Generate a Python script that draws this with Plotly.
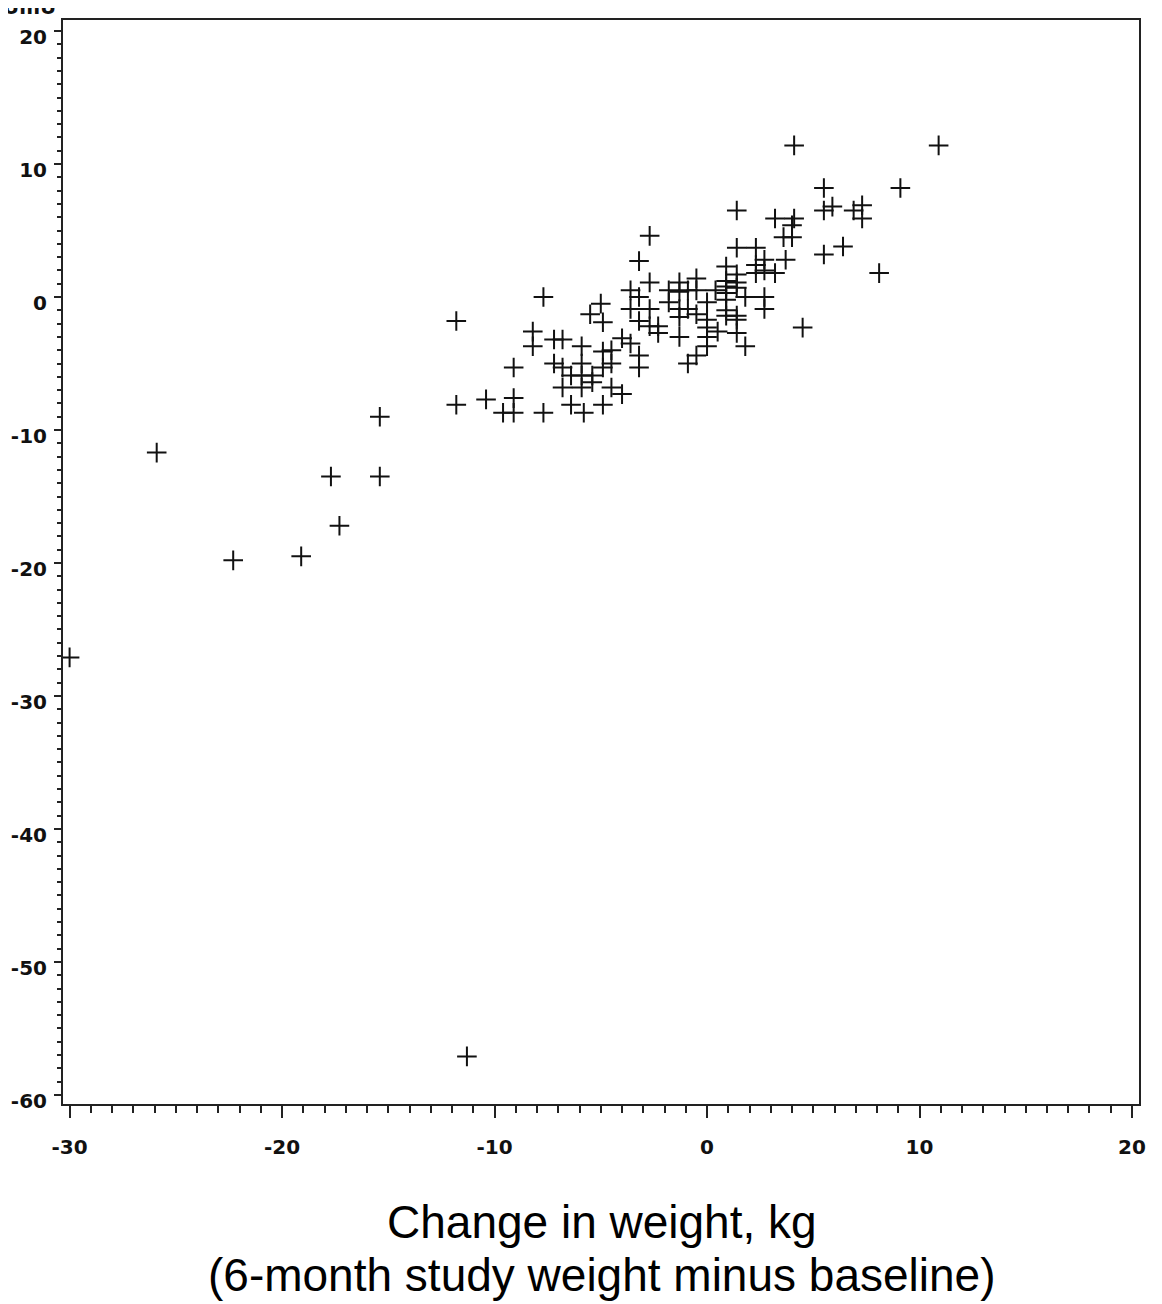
import plotly.graph_objects as go

# Change in weight (kg) vs change in ordinate variable
weight_change = [
    -30.0, -25.9, -22.3, -19.1, -17.7, -17.3, -15.4, -15.4, -11.8, -11.8, -11.3, -10.4,
    -9.6, -9.1, -9.1, -9.1, -8.2, -8.2, -7.7, -7.7, -7.2, -6.8, -7.2, -6.8,
    -6.4, -5.9, -5.4, -5.9, -5.9, -6.8, -5.9, -5.4, -6.4, -5.8, -4.9, -4.5,
    -4.0, -4.9, -4.5, -4.9, -4.5, -4.0, -3.6, -3.2, -3.2, -5.5, -5.0, -4.9,
    -3.6, -3.2, -3.6, -3.2,
    -2.7, -3.2, -2.7, -2.7, -2.7, -2.3, -2.3, -1.3, -0.9, -0.5, -1.8, -1.8,
    -1.3, -1.3, -0.9, -0.5, -0.5, -1.3, -0.9, -1.3, -0.5, 0.0, 0.0, 0.0,
    0.0, 0.0, 0.5, 0.4, 0.9, 0.9, 0.9, 0.9, 0.9, 0.9, 0.9, 1.4,
    1.4, 1.4, 1.4, 1.4, 1.4, 1.8, 1.8, 1.4, 2.3, 2.3, 2.3, 2.7,
    2.7, 3.2, 3.7, 2.7, 2.7, 3.6, 4.0, 4.0,
    4.1, 10.9, 5.5, 9.1, 1.4, 3.2, 4.1, 5.5, 5.9, 6.9, 7.3, 7.3,
    5.5, 6.4, 8.1, 4.5,
]
outcome_change = [
    -27.1, -11.7, -19.8, -19.5, -13.5, -17.2, -9.0, -13.5, -1.8, -8.1, -57.1, -7.7,
    -8.7, -8.7, -7.6, -5.3, -2.6, -3.7, 0.0, -8.7, -3.2, -3.2, -5.0, -5.3,
    -5.9, -5.9, -5.9, -5.0, -3.7, -6.8, -6.8, -6.4, -8.1, -8.7, -8.1, -6.8,
    -7.3, -5.3, -5.0, -4.1, -4.0, -3.1, -3.5, -4.4, -5.3, -1.3, -0.5, -1.9,
    0.5, 0.0, -0.9, -1.8,
    4.6, 2.7, 1.1, -0.9, -2.2, -2.2, -2.7, -3.0, -5.0, -4.4, 0.5, -0.4,
    1.1, 0.4, 0.5, 1.4, 0.5, -0.9, -0.9, -1.5, -1.3, -1.7, -0.4, -2.3,
    -3.0, -3.7, -2.6, 0.5, 2.3, 1.2, 0.8, 0.3, -0.2, -1.0, -1.4, 1.7,
    1.1, 0.7, -1.4, -1.7, -2.7, 0.0, -3.7, 3.7, 3.7, 2.4, 1.8, 2.8,
    2.0, 1.8, 2.8, 0.0, -0.9, 4.5, 5.4, 4.5,
    11.4, 11.4, 8.2, 8.2, 6.5, 5.9, 5.9, 6.5, 6.8, 6.5, 6.9, 5.9,
    3.2, 3.8, 1.8, -2.3,
]

x_tick_vals = [-30, -20, -10, 0, 10, 20]
x_tick_text = ["-30", "-20", "-10", "0", "10", "20"]
y_tick_vals = [20, 10, 0, -10, -20, -30, -40, -50, -60]
y_tick_text = ["20", "10", "0", "-10", "-20", "-30", "-40", "-50", "-60"]

x_title_line1 = "Change in weight, kg"
x_title_line2 = "(6-month study weight minus baseline)"
y_label_fragment = "UmU"

# page has an 8px default body margin; size the figure to fit the 1162x1304 window
BODY = 8
W, H = 1162 - BODY, 1304 - BODY
PLOT_L, PLOT_R, PLOT_T, PLOT_B = 63, 1139, 20, 1104   # page pixel targets
ML = PLOT_L - BODY
MT = PLOT_T - BODY
MR = W - (PLOT_R - BODY)
MB = H - (PLOT_B - BODY)
plot_h = PLOT_B - PLOT_T
plot_w = PLOT_R - PLOT_L

def paper_y(page_px):
    return (PLOT_B - page_px) / plot_h

def paper_x(page_px):
    return (page_px - PLOT_L) / plot_w

fig = go.Figure()
fig.add_trace(go.Scatter(
    x=weight_change, y=outcome_change, mode="markers",
    marker=dict(symbol="cross-thin", size=14, color="#111",
                line=dict(width=2, color="#111")),
    showlegend=False, hoverinfo="x+y",
))

tickfont = dict(family="DejaVu Sans", size=20, color="#111", weight="bold")

fig.update_layout(
    width=W, height=H,
    margin=dict(l=ML, r=MR, t=MT, b=MB, pad=0, autoexpand=False),
    paper_bgcolor="white", plot_bgcolor="white",
    xaxis=dict(
        range=[-30.31, 20.33], tickvals=x_tick_vals, ticktext=x_tick_text,
        showgrid=False, zeroline=False, showline=True, linecolor="#222", linewidth=2,
        mirror=True, ticks="outside", ticklen=12, tickwidth=2, tickcolor="#222",
        tickfont=tickfont, ticklabelstandoff=12, automargin=False,
        minor=dict(ticks="outside", dtick=1, ticklen=7, tickwidth=2, tickcolor="#222",
                   showgrid=False),
    ),
    yaxis=dict(
        range=[-60.68, 20.83], tickvals=y_tick_vals, ticktext=y_tick_text,
        showgrid=False, zeroline=False, showline=True, linecolor="#222", linewidth=2,
        mirror=True, ticks="outside", ticklen=7, tickwidth=2, tickcolor="#222",
        tickfont=tickfont, ticklabelstandoff=3, ticklabelshift=6, automargin=False,
        minor=dict(ticks="outside", dtick=1, ticklen=4, tickwidth=2, tickcolor="#222",
                   showgrid=False),
    ),
    annotations=[
        dict(text=x_title_line1, xref="paper", yref="paper", x=paper_x(601.5), y=paper_y(1222),
             xanchor="center", yanchor="middle", showarrow=False,
             font=dict(family="Liberation Sans", size=46, color="#000")),
        dict(text=x_title_line2, xref="paper", yref="paper", x=paper_x(601.5), y=paper_y(1275),
             xanchor="center", yanchor="middle", showarrow=False,
             font=dict(family="Liberation Sans", size=46, color="#000")),
        dict(text=y_label_fragment, xref="paper", yref="paper",
             x=paper_x(29), y=paper_y(7),
             xanchor="center", yanchor="middle", showarrow=False,
             font=dict(family="DejaVu Sans", size=20, color="#111", weight="bold")),
    ],
)

fig.write_html("out.html")
